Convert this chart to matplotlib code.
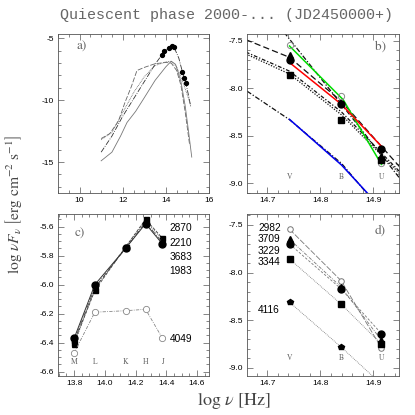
import matplotlib
matplotlib.use("Agg")
import matplotlib.pyplot as plt
from matplotlib.ticker import MultipleLocator
import numpy as np

plt.rcParams['axes.unicode_minus'] = False
plt.rcParams['font.family'] = ['Liberation Sans', 'DejaVu Sans']
plt.rcParams['mathtext.fontset'] = 'stix'

# ---------------- data ----------------
# panel a: SED model curves
a_x1 = [11.0, 11.5, 12.0, 12.5, 13.0, 13.5, 13.8, 13.93, 14.13, 14.27, 14.38, 14.6, 14.77, 14.85, 14.93, 15.05, 15.15]
a_y1 = [-14.2, -12.9, -11.3, -9.9, -8.5, -7.1, -6.37, -6.0, -5.75, -5.58, -5.72, -6.6, -7.73, -8.18, -8.65, -9.6, -10.5]
a_x2 = [11.0, 11.4, 11.8, 12.1, 12.4, 12.66, 13.0, 13.5, 14.0, 14.25, 14.5, 14.7, 14.9, 15.1]
a_y2 = [-13.1, -12.7, -11.7, -10.2, -8.9, -7.6, -7.35, -7.05, -6.95, -7.0, -7.6, -8.8, -11.0, -13.6]
a_x3 = [11.0, 11.5, 11.9, 12.2, 12.6, 13.0, 13.5, 14.0, 14.25, 14.45, 14.7, 14.9, 15.05, 15.2]
a_y3 = [-14.9, -14.2, -12.9, -11.8, -10.9, -9.8, -8.4, -7.3, -6.85, -7.1, -8.5, -10.5, -12.5, -14.6]
a_x4 = [11.0, 11.5, 12.0, 12.5, 13.0, 13.5, 14.0, 14.25, 14.5, 14.8, 15.0, 15.15]
a_y4 = [-13.2, -12.6, -11.0, -9.4, -8.1, -7.2, -6.9, -6.85, -7.3, -8.6, -9.6, -10.4]

# near-IR bands (panel c)
ir_bands = ['M', 'L', 'K', 'H', 'J']
ir_x = [13.80, 13.935, 14.135, 14.265, 14.375]
ir_2870 = [-6.40, -6.04, -5.74, -5.55, -5.68]
ir_2210 = [-6.37, -6.00, -5.75, -5.58, -5.72]
ir_3683 = [-6.41, -6.03, -5.74, -5.56, -5.69]
ir_1983 = [-6.39, -6.02, -5.75, -5.57, -5.71]
ir_4049 = [-6.47, -6.19, -6.18, -6.17, -6.37]
ir_labels = ['2870', '2210', '3683', '1983', '4049']

# optical bands (panels b, d)
opt_bands = ['V', 'B', 'U']
opt_x = [14.742, 14.839, 14.915]
opt_2982 = [-7.545, -8.084, -8.79]
opt_3709 = [-7.65, -8.15, -8.71]
opt_3229 = [-7.70, -8.17, -8.64]
opt_3344 = [-7.857, -8.33, -8.75]
opt_4116 = [-8.31, -8.78, -9.17]
opt_labels = ['2982', '3709', '3229', '3344', '4116']

# panel b: model lines
b_green_x = [14.742, 14.843, 14.915]
b_green_y = [-7.556, -8.12, -8.80]
b_red_x = [14.742, 14.84, 14.915]
b_red_y = [-7.73, -8.17, -8.61]
b_blue_x = [14.742, 14.84, 14.89]
b_blue_y = [-8.327, -8.807, -9.11]
b_m1_x = [14.66, 14.742, 14.84, 14.95]
b_m1_y = [-7.49, -7.675, -8.14, -8.83]
b_m2_x = [14.66, 14.742, 14.84, 14.95]
b_m2_y = [-7.62, -7.82, -8.25, -8.88]
b_m3_x = [14.66, 14.742, 14.84, 14.95]
b_m3_y = [-7.64, -7.85, -8.28, -8.90]
b_m4_x = [14.72, 14.84, 14.95]
b_m4_y = [-7.33, -8.17, -8.95]
b_m5_x = [14.662, 14.742, 14.84, 14.887]
b_m5_y = [-8.03, -8.33, -8.79, -9.10]

# ---------------- figure ----------------
fig = plt.figure(figsize=(4.15, 4.15), dpi=100)
W = 415.0
def ax_at(l, t, r, b):
    return fig.add_axes([l / W, 1 - b / W, (r - l) / W, (b - t) / W])

axa = ax_at(58, 34, 209, 193)
axb = ax_at(247, 34, 399, 193)
axc = ax_at(58, 214, 209, 376)
axd = ax_at(247, 214, 399, 376)

def style(ax, xmaj, xmin, ymaj, ymin):
    ax.xaxis.set_major_locator(MultipleLocator(xmaj))
    ax.xaxis.set_minor_locator(MultipleLocator(xmin))
    ax.yaxis.set_major_locator(MultipleLocator(ymaj))
    ax.yaxis.set_minor_locator(MultipleLocator(ymin))
    ax.tick_params(which='both', direction='in', top=True, right=True,
                   labelsize=6, width=0.5, colors='#555555', labelcolor='black')
    ax.tick_params(which='major', length=4, pad=3)
    ax.tick_params(which='minor', length=2)
    for s in ax.spines.values():
        s.set_linewidth(0.6)
        s.set_color('#555555')

gray = '#666666'
serif = dict(family='STIXGeneral')

# ---- panel a ----
axa.plot(a_x1, a_y1, color='#333333', lw=0.6, ls='-.')
axa.plot(a_x2, a_y2, color=gray, lw=0.6, ls=(0, (6, 2)))
axa.plot(a_x3, a_y3, color='#777777', lw=0.6, ls='-')
axa.plot(a_x4, a_y4, color=gray, lw=0.6, ls=(0, (1, 1)))
axa.plot(ir_x + opt_x[:], ir_2210 + opt_3229, 'o', color='black', ms=2.8, ls='none')
axa.set_xlim(9, 16)
axa.set_ylim(-17.5, -4.65)
style(axa, 2, 0.5, 5, 1)
axa.text(0.12, 0.9, 'a)', transform=axa.transAxes, fontsize=9.5, color=gray, **serif)

# ---- panel b ----
lc = '#111111'
axb.plot(b_m1_x, b_m1_y, color=lc, lw=0.9, ls=(0, (5, 2.5)))
axb.plot(b_m2_x, b_m2_y, color=lc, lw=0.9, ls=(0, (3, 1.5, 1, 1.5)))
axb.plot(b_m3_x, b_m3_y, color=lc, lw=0.9, ls=(0, (1, 1.2)))
axb.plot(b_m4_x, b_m4_y, color=lc, lw=0.9, ls=(0, (4, 1.5, 1, 1.5)))
axb.plot(b_m5_x, b_m5_y, color=lc, lw=0.9, ls=(0, (4, 1.5, 1, 1.5)))
axb.plot(b_green_x, b_green_y, color='#00dd00', lw=1.1)
axb.plot(b_red_x, b_red_y, color='#ff0000', lw=1.1)
axb.plot(b_blue_x, b_blue_y, color='#0000ee', lw=1.1)
axb.plot(opt_x, opt_2982, 'o', mfc='none', mec='#888888', mew=0.7, ms=4.5, ls='none')
axb.plot(opt_x, opt_3709, '^', color='black', ms=4, ls='none')
axb.plot(opt_x, opt_3229, 'o', color='black', ms=5, ls='none')
axb.plot(opt_x, opt_3344, 's', color='black', ms=3.8, ls='none')
for xv, nm in zip(opt_x, opt_bands):
    axb.text(xv, 0.1, nm, transform=axb.get_xaxis_transform(), fontsize=5.5,
             color=gray, ha='center', va='center', **serif)
axb.set_xlim(14.662, 14.948)
axb.set_ylim(-9.1, -7.43)
style(axb, 0.1, 0.02, 0.5, 0.1)
axb.text(0.84, 0.9, 'b)', transform=axb.transAxes, fontsize=9.5, color=gray, **serif)

# ---- panel c ----
axc.plot(ir_x, ir_2870, color='#444444', lw=0.6, ls='--', marker='s', ms=3.6, mfc='black', mec='black')
axc.plot(ir_x, ir_3683, color='#444444', lw=0.6, ls=':', marker='^', ms=3.6, mfc='black', mec='black')
axc.plot(ir_x, ir_1983, color='#444444', lw=0.6, ls='-.', marker='s', ms=3.0, mfc='black', mec='black')
axc.plot(ir_x, ir_2210, color='#333333', lw=0.7, ls='-', marker='o', ms=5, mfc='black', mec='black')
axc.plot(ir_x, ir_4049, color='#888888', lw=0.6, ls=(0, (4, 1.5, 1, 1.5)), marker='o', ms=4.5,
         mfc='white', mec='#888888', mew=0.6)
for xv, nm in zip(ir_x, ir_bands):
    axc.text(xv, 0.085, nm, transform=axc.get_xaxis_transform(), fontsize=5.5,
             color=gray, ha='center', va='center', **serif)
for yf, lab in zip([0.912, 0.822, 0.735, 0.648, 0.228], ir_labels):
    axc.text(0.74, yf, lab, transform=axc.transAxes, fontsize=7.3, va='center')
axc.set_xlim(13.695, 14.678)
axc.set_ylim(-6.63, -5.513)
style(axc, 0.2, 0.05, 0.2, 0.05)
axc.text(0.11, 0.86, 'c)', transform=axc.transAxes, fontsize=9.5, color=gray, **serif)

# ---- panel d ----
axd.plot(opt_x, opt_2982, color='#777777', lw=0.6, ls=(0, (7, 2)), marker='o', ms=4,
         mfc='white', mec='#777777', mew=0.7)
axd.plot(opt_x, opt_3709, color='#777777', lw=0.6, ls=(0, (4, 1.5, 1, 1.5)), marker='^', ms=4,
         mfc='black', mec='black')
axd.plot(opt_x, opt_3229, color='#777777', lw=0.6, ls=(0, (3, 2)), marker='o', ms=5,
         mfc='black', mec='black')
axd.plot(opt_x, opt_3344, color='#777777', lw=0.6, ls=(0, (1, 1.2)), marker='s', ms=3.8,
         mfc='black', mec='black')
axd.plot(opt_x, opt_4116, color='#777777', lw=0.6, ls=(0, (1, 1.2)), marker='p', ms=4.2,
         mfc='black', mec='black')
for xv, nm in zip(opt_x, opt_bands):
    axd.text(xv, 0.11, nm, transform=axd.get_xaxis_transform(), fontsize=5.5,
             color=gray, ha='center', va='center', **serif)
for yf, lab in zip([0.912, 0.844, 0.774, 0.706, 0.407], opt_labels):
    axd.text(0.072, yf, lab, transform=axd.transAxes, fontsize=7.3, va='center')
axd.set_xlim(14.662, 14.948)
axd.set_ylim(-9.084, -7.385)
style(axd, 0.1, 0.02, 0.5, 0.1)
axd.text(0.84, 0.88, 'd)', transform=axd.transAxes, fontsize=9.5, color=gray, **serif)

# ---- titles / labels ----
fig.text(226 / W, 1 - 15 / W, 'Quiescent phase 2000-... (JD2450000+)', ha='center', va='center',
         fontsize=10.8, family='Liberation Mono', color='#666666')
fig.text(13 / W, 1 - 204 / W, r'$\mathrm{log}\ \nu F_\nu\ \left[\mathrm{erg\ cm^{-2}\ s^{-1}}\right]$',
         rotation=90, ha='center', va='center', fontsize=11.2, color='#444444')
fig.text(234 / W, 1 - 401 / W, r'$\mathrm{log}\ \nu\ \left[\mathrm{Hz}\right]$',
         ha='center', va='center', fontsize=13, color='#444444')

fig.savefig('out.png', dpi=100)
